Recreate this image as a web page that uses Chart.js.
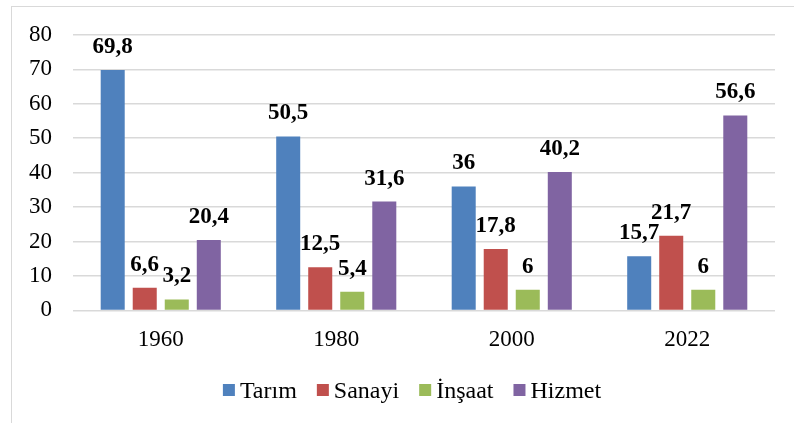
<!DOCTYPE html>
<html>
<head>
<meta charset="utf-8">
<script src="https://cdn.jsdelivr.net/npm/chart.js@4"></script>
<style>
  body { margin: 0; background: #fff; }
  #wrap { position: relative; width: 794px; height: 423px; overflow: hidden; }
  #frame { position: absolute; left: 11px; top: 6px; width: 820px; height: 440px; border: 1px solid #d9d9d9; }
  canvas { position: absolute; left: 0; top: 0; }
</style>
</head>
<body>
<div id="wrap">
  <div id="frame"></div>
  <canvas id="chart" width="794" height="423"></canvas>
</div>
<script>
// yıllar ve sektör payları (%)
const years = ['1960', '1980', '2000', '2022'];
const tarim = [69.8, 50.5, 36, 15.7];
const sanayi = [6.6, 12.5, 17.8, 21.7];
const insaat = [3.2, 5.4, 6, 6];
const hizmet = [20.4, 31.6, 40.2, 56.6];

const serif = "'Liberation Serif', 'Times New Roman', serif";

// değer etiketleri: çubuğun üstüne, virgüllü
const valueLabels = {
    id: 'valueLabels',
    afterDatasetsDraw(chart) {
        const ctx = chart.ctx;
        ctx.save();
        ctx.font = 'bold 23px ' + serif;
        ctx.fillStyle = '#000';
        ctx.textAlign = 'center';
        ctx.textBaseline = 'alphabetic';
        chart.data.datasets.forEach((ds, i) => {
            chart.getDatasetMeta(i).data.forEach((bar, j) => {
                const txt = String(ds.data[j]).replace('.', ',');
                ctx.fillText(txt, bar.x, bar.y - 17);
            });
        });
        ctx.restore();
    }
};

// Excel tarzı lejant (kutu ile yazı arası dar)
const bottomLegend = {
    id: 'bottomLegend',
    afterDraw(chart) {
        const ctx = chart.ctx;
        const box = 12, gap = 5, between = 20, y = 390;
        ctx.save();
        ctx.font = 'normal 400 24px ' + serif;
        ctx.textBaseline = 'alphabetic';
        ctx.textAlign = 'left';
        const items = chart.data.datasets.map(ds => ({
            text: ds.label, color: ds.backgroundColor, w: ctx.measureText(ds.label).width
        }));
        let total = items.reduce((s, it) => s + box + gap + it.w, 0) + between * (items.length - 1);
        let x = (chart.width - total) / 2 + 15;
        items.forEach(it => {
            ctx.fillStyle = it.color;
            ctx.fillRect(x, y - box / 2, box, box);
            ctx.fillStyle = '#000';
            ctx.fillText(it.text, x + box + gap, y + 8);
            x += box + gap + it.w + between;
        });
        ctx.restore();
    }
};

new Chart(document.getElementById('chart'), {
    type: 'bar',
    data: {
        labels: years,
        datasets: [
            { label: 'Tarım', data: tarim, backgroundColor: '#4F81BD' },
            { label: 'Sanayi', data: sanayi, backgroundColor: '#C0504D' },
            { label: 'İnşaat', data: insaat, backgroundColor: '#9BBB59' },
            { label: 'Hizmet', data: hizmet, backgroundColor: '#8064A2' }
        ]
    },
    options: {
        responsive: false,
        animation: false,
        categoryPercentage: 0.73,
        barPercentage: 0.75,
        layout: { padding: { left: 11, right: 19, top: 33, bottom: 61 } },
        scales: {
            x: {
                grid: { display: false },
                border: { display: false },
                ticks: { color: '#000', font: { family: serif, size: 23 }, padding: 8 }
            },
            y: {
                min: 0,
                max: 80,
                afterFit: s => { s.width = 62; },
                grid: { color: '#d9d9d9', lineWidth: 1.5, drawTicks: false },
                border: { display: false },
                ticks: { stepSize: 10, color: '#000', font: { family: serif, size: 23 }, padding: 21 }
            }
        },
        plugins: {
            legend: { display: false },
            tooltip: { enabled: false }
        }
    },
    plugins: [valueLabels, bottomLegend]
});
</script>
</body>
</html>
